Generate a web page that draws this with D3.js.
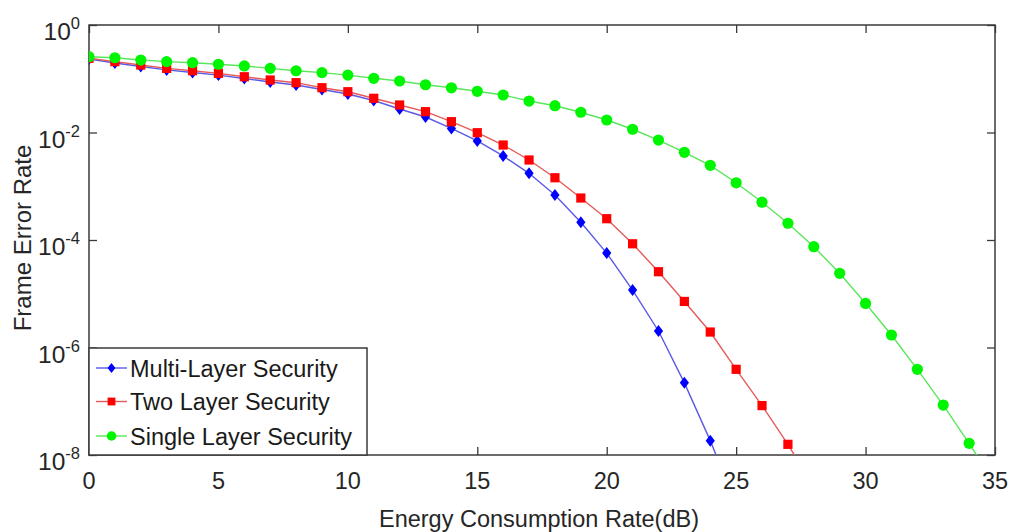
<!DOCTYPE html>
<html>
<head>
<meta charset="utf-8">
<script src="https://cdn.jsdelivr.net/npm/d3@7"></script>
<style>
  html, body { margin: 0; padding: 0; background: #fff; }
  svg { display: block; font-family: "Liberation Sans", Arial, sans-serif; }
</style>
</head>
<body>
<svg id="chart" width="1013" height="532"></svg>
<script>
// ---- data ----
const energyDb = [0,1,2,3,4,5,6,7,8,9,10,11,12,13,14,15,16,17,18,19,20,21,22,23,24,25,26,27,28,29,30,31,32,33,34,35];

const multiLayer = [0.233,0.196,0.169,0.146,0.131,0.117,0.101,0.0870,0.0766,0.0631,
  0.0520,0.0394,0.0274,0.0194,0.0119,0.00695,0.00366,0.00174,6.9e-4,2.14e-4,
  5.7e-5,1.17e-5,2.03e-6,2.2e-7,1.85e-8,1.2e-9];

const twoLayer = [0.240,0.208,0.180,0.156,0.141,0.126,0.109,0.0948,0.0845,0.0681,
  0.0574,0.0433,0.0325,0.0244,0.0159,0.00991,0.00585,0.00308,0.00144,6.04e-4,
  2.49e-4,8.5e-5,2.57e-5,7.2e-6,1.94e-6,3.93e-7,8.3e-8,1.58e-8,2.5e-9];

const singleLayer = [0.257,0.246,0.223,0.208,0.199,0.186,0.173,0.156,0.141,0.130,
  0.117,0.102,0.0908,0.0774,0.0679,0.0584,0.0499,0.0385,0.0315,0.0238,
  0.0171,0.0115,0.00724,0.00428,0.00245,0.00116,5.05e-4,2.05e-4,7.5e-5,2.4e-5,
  6.6e-6,1.71e-6,3.93e-7,8.5e-8,1.65e-8,2.9e-9];

const seriesNames = ["Multi-Layer Security", "Two Layer Security", "Single Layer Security"];
const xTicks = [0,5,10,15,20,25,30,35];
const yTickExponents = [0,-2,-4,-6,-8];
const xLabel = "Energy Consumption Rate(dB)";
const yLabel = "Frame Error Rate";

// ---- layout ----
const svg = d3.select("#chart");
const L = 89, R = 995, T = 25, B = 455;
const x = d3.scaleLinear().domain([0, 35]).range([L, R]);
const y = d3.scaleLog().domain([1, 1e-8]).range([T, B]);
const fontSize = 23.5;
const textColor = "#262626";
const axisColor = "#3a3a3a";

const series = [
  { name: seriesNames[0], values: multiLayer, color: "#0000ff", line: "#5a5ae6", shape: "diamond" },
  { name: seriesNames[1], values: twoLayer, color: "#ff0000", line: "#e65a5a", shape: "square" },
  { name: seriesNames[2], values: singleLayer, color: "#00f500", line: "#5ae65a", shape: "circle" }
];

svg.append("defs").append("clipPath").attr("id", "plotclip")
  .append("rect").attr("x", L).attr("y", T).attr("width", R - L).attr("height", B - T);

// axes (ticks inward, box)
const tick = 8;
svg.append("g").attr("transform", `translate(0,${B})`)
  .call(d3.axisBottom(x).tickValues(xTicks).tickSizeInner(-tick).tickSizeOuter(0).tickFormat(""))
  .call(g => g.selectAll("line").attr("stroke", axisColor).attr("stroke-width", 1.3))
  .call(g => g.select(".domain").remove());
svg.append("g").attr("transform", `translate(0,${T})`)
  .call(d3.axisTop(x).tickValues(xTicks).tickSizeInner(-tick).tickSizeOuter(0).tickFormat(""))
  .call(g => g.selectAll("line").attr("stroke", axisColor).attr("stroke-width", 1.3))
  .call(g => g.select(".domain").remove());
const yTickVals = yTickExponents.map(e => Math.pow(10, e));
svg.append("g").attr("transform", `translate(${L},0)`)
  .call(d3.axisLeft(y).tickValues(yTickVals).tickSizeInner(-tick).tickSizeOuter(0).tickFormat(""))
  .call(g => g.selectAll("line").attr("stroke", axisColor).attr("stroke-width", 1.3))
  .call(g => g.select(".domain").remove());
svg.append("g").attr("transform", `translate(${R},0)`)
  .call(d3.axisRight(y).tickValues(yTickVals).tickSizeInner(-tick).tickSizeOuter(0).tickFormat(""))
  .call(g => g.selectAll("line").attr("stroke", axisColor).attr("stroke-width", 1.3))
  .call(g => g.select(".domain").remove());

svg.append("rect").attr("x", L).attr("y", T).attr("width", R - L).attr("height", B - T)
  .attr("fill", "none").attr("stroke", axisColor).attr("stroke-width", 1.5);

// x tick labels
svg.append("g").selectAll("text").data(xTicks).join("text")
  .attr("x", d => x(d)).attr("y", B + 34)
  .attr("text-anchor", "middle").attr("font-size", fontSize).attr("fill", textColor)
  .text(d => d);

// y tick labels 10^e
const yl = svg.append("g").selectAll("text").data(yTickExponents).join("text")
  .attr("x", 80).attr("y", d => y(Math.pow(10, d)) + 15)
  .attr("text-anchor", "end").attr("font-size", 24.5).attr("fill", textColor);
yl.append("tspan").text("10");
yl.append("tspan").attr("dy", -11).attr("font-size", 16.5).text(d => d === 0 ? "0" : "-" + Math.abs(d));

// axis labels
svg.append("text").attr("x", (L + R) / 2 - 3).attr("y", 527)
  .attr("text-anchor", "middle").attr("font-size", fontSize).attr("fill", textColor).text(xLabel);
svg.append("text").attr("transform", `translate(31,${(T + B) / 2 - 2}) rotate(-90)`)
  .attr("text-anchor", "middle").attr("font-size", 24).attr("fill", textColor).text(yLabel);

// marker drawing
function drawMarker(g, shape, color, cx, cy, s) {
  if (shape === "diamond") {
    g.append("path").attr("d", `M${cx},${cy - 6 * s}L${cx + 4.6 * s},${cy}L${cx},${cy + 6 * s}L${cx - 4.6 * s},${cy}Z`).attr("fill", color);
  } else if (shape === "square") {
    g.append("rect").attr("x", cx - 4.6 * s).attr("y", cy - 4.6 * s).attr("width", 9.2 * s).attr("height", 9.2 * s).attr("fill", color);
  } else {
    g.append("circle").attr("cx", cx).attr("cy", cy).attr("r", 5.6 * s).attr("fill", color);
  }
}

// series
const plot = svg.append("g").attr("clip-path", "url(#plotclip)");
const line = d3.line().x((d, i) => x(energyDb[i])).y(d => y(d));
series.forEach(s => {
  plot.append("path").datum(s.values).attr("d", line)
    .attr("fill", "none").attr("stroke", s.line).attr("stroke-width", 1.4);
});
series.forEach(s => {
  const g = plot.append("g");
  s.values.forEach((v, i) => drawMarker(g, s.shape, s.color, x(energyDb[i]), y(v), 1));
});

// legend
const lg = svg.append("g");
lg.append("rect").attr("x", L).attr("y", 348).attr("width", 367 - L).attr("height", B - 348)
  .attr("fill", "#fff").attr("stroke", axisColor).attr("stroke-width", 1.5);
const rowY = [368, 401.5, 436];
series.forEach((s, i) => {
  lg.append("line").attr("x1", 96).attr("x2", 127).attr("y1", rowY[i]).attr("y2", rowY[i])
    .attr("stroke", s.line).attr("stroke-width", 1.4);
  drawMarker(lg, s.shape, s.color, 111.5, rowY[i], 0.85);
  lg.append("text").attr("x", 130).attr("y", rowY[i] + 8.5)
    .attr("font-size", fontSize).attr("fill", "#1a1a1a").text(s.name);
});
</script>
</body>
</html>
